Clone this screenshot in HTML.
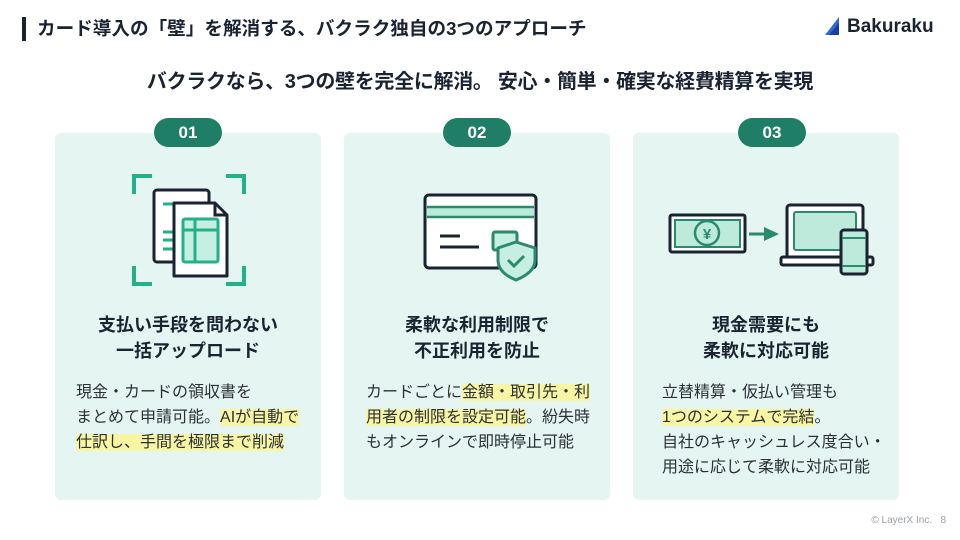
<!DOCTYPE html>
<html><head><meta charset="utf-8"><style>
*{margin:0;padding:0;box-sizing:border-box}
body{width:960px;height:540px;background:#fff;position:relative;overflow:hidden;font-family:"Liberation Sans","Noto Sans CJK JP",sans-serif;color:#1a2332}
.bar{position:absolute;left:22px;top:17px;width:4px;height:24px;background:#1a2332}
.title{position:absolute;left:37px;top:16px;font-size:18.6px;font-weight:bold;line-height:26px;white-space:nowrap}
.logo{position:absolute;left:825px;top:16px;font-size:19px;font-weight:bold;color:#1a2332;white-space:nowrap}
.sub{position:absolute;left:0;width:960px;top:68px;text-align:center;font-size:20px;font-weight:bold;line-height:28px;letter-spacing:-0.3px}
.card{position:absolute;top:133px;width:266px;height:367px;background:#e5f6f2;border-radius:6px}
.badge{position:absolute;top:118px;width:68px;height:29px;background:#1f7e66;border-radius:15px;color:#fff;font-weight:bold;font-size:17px;text-align:center;line-height:29px}
.h{position:absolute;top:312px;width:266px;text-align:center;font-size:18px;font-weight:bold;line-height:26px}
.b{position:absolute;top:380px;font-size:16px;line-height:25px;color:#2b3036;white-space:nowrap}
.hl{background:#f8f6a4}
svg{position:absolute}
.foot{position:absolute;right:14px;top:515px;font-size:10px;color:#9aa0a6}
</style></head><body>
<div class="bar"></div>
<div class="title">カード導入の「壁」を解消する、バクラク独自の3つのアプローチ</div>
<div class="logo"><svg style="position:relative;display:inline-block;vertical-align:-3px" width="22" height="18" viewBox="0 0 22 18"><polygon points="0,18 14,0 14,18" fill="#2a6bd6"/><polygon points="4,18 14,6 14,18" fill="#1a3f9a"/></svg>Bakuraku</div>
<div class="sub">バクラクなら、3つの壁を完全に解消。 安心・簡単・確実な経費精算を実現</div>

<div class="card" style="left:55px"></div>
<div class="card" style="left:344px"></div>
<div class="card" style="left:633px"></div>
<div class="badge" style="left:154px">01</div>
<div class="badge" style="left:443px">02</div>
<div class="badge" style="left:738px">03</div>

<!-- icon 1 -->
<svg style="left:120px;top:160px" width="150" height="130" viewBox="0 0 150 130">
<g stroke="#22b28a" stroke-width="4" fill="none">
<path d="M14,34 V16 H32"/><path d="M106,16 H124 V34"/><path d="M14,106 V124 H32"/><path d="M106,124 H124 V106"/>
</g>
<rect x="34" y="30" width="55" height="72" rx="3" fill="#fff" stroke="#1a2332" stroke-width="3"/>
<g stroke="#22b28a" stroke-width="3"><line x1="43" y1="44" x2="55" y2="44"/><line x1="43" y1="72" x2="55" y2="72"/><line x1="43" y1="80" x2="55" y2="80"/><line x1="43" y1="89" x2="55" y2="89"/></g>
<path d="M54,43 H95 L107,55 V116 H54 Z" fill="#fff" stroke="#1a2332" stroke-width="3" stroke-linejoin="round"/>
<path d="M95,43 V55 H107" fill="none" stroke="#1a2332" stroke-width="3"/>
<rect x="63" y="59" width="35" height="43" rx="2" fill="#c7efe1" stroke="#22b28a" stroke-width="3"/>
<line x1="63" y1="70" x2="98" y2="70" stroke="#22b28a" stroke-width="3"/><line x1="75" y1="59" x2="75" y2="102" stroke="#22b28a" stroke-width="3"/>
</svg>

<!-- icon 2 -->
<svg style="left:410px;top:180px" width="140" height="110" viewBox="0 0 140 110">
<rect x="15" y="15" width="111" height="73" rx="4" fill="#fff" stroke="#1a2332" stroke-width="3"/>
<rect x="17" y="27" width="107" height="10" fill="#b9ead8"/>
<line x1="17" y1="27" x2="124" y2="27" stroke="#2a8a6e" stroke-width="2.5"/><line x1="17" y1="37" x2="124" y2="37" stroke="#2a8a6e" stroke-width="2.5"/>
<line x1="30" y1="56" x2="50" y2="56" stroke="#1a2332" stroke-width="3"/><line x1="30" y1="67" x2="69" y2="67" stroke="#1a2332" stroke-width="3"/>
<rect x="83" y="52" width="24" height="18" rx="2" fill="#c7efe1" stroke="#2a8a6e" stroke-width="3"/>
<path d="M106,62 L125,68 V80 C125,90 116,96 106,100 C96,96 88,90 88,80 V68 Z" fill="#c7efe1" stroke="#2a8a6e" stroke-width="3" stroke-linejoin="round"/>
<path d="M98,80 L104,86 L114,76" fill="none" stroke="#2a8a6e" stroke-width="3"/>
</svg>

<!-- icon 3 -->
<svg style="left:660px;top:190px" width="220" height="90" viewBox="0 0 220 90">
<rect x="10" y="25" width="75" height="37" rx="2" fill="#fff" stroke="#1a2332" stroke-width="3"/>
<rect x="15" y="30" width="65" height="27" fill="#bdeadb" stroke="#2a8a6e" stroke-width="2"/>
<circle cx="47" cy="43" r="12" fill="#bdeadb" stroke="#2a8a6e" stroke-width="2.5"/>
<text x="47" y="49" font-size="15" font-weight="bold" fill="#2a8a6e" text-anchor="middle" font-family="Liberation Sans,sans-serif">¥</text>
<line x1="89" y1="44" x2="106" y2="44" stroke="#2a8a6e" stroke-width="3"/><polygon points="104,37 119,44 104,51" fill="#2a8a6e"/>
<rect x="127" y="15" width="76" height="56" rx="3" fill="#fff" stroke="#1a2332" stroke-width="3"/>
<rect x="134" y="22" width="62" height="38" rx="2" fill="#bdeadb" stroke="#2a8a6e" stroke-width="2"/>
<rect x="121" y="67" width="92" height="8" rx="2" fill="#fff" stroke="#1a2332" stroke-width="3"/>
<rect x="181" y="40" width="26" height="44" rx="3" fill="#bdeadb" stroke="#1a2332" stroke-width="3"/>
<line x1="182" y1="48" x2="206" y2="48" stroke="#2a8a6e" stroke-width="2"/><line x1="182" y1="76" x2="206" y2="76" stroke="#2a8a6e" stroke-width="2"/>
</svg>

<div class="h" style="left:55px">支払い手段を問わない<br>一括アップロード</div>
<div class="h" style="left:344px">柔軟な利用制限で<br>不正利用を防止</div>
<div class="h" style="left:633px">現金需要にも<br>柔軟に対応可能</div>

<div class="b" style="left:76px">現金・カードの領収書を<br>まとめて申請可能。<span class="hl">AIが自動で</span><br><span class="hl">仕訳し、手間を極限まで削減</span></div>
<div class="b" style="left:366px">カードごとに<span class="hl">金額・取引先・利</span><br><span class="hl">用者の制限を設定可能</span>。紛失時<br>もオンラインで即時停止可能</div>
<div class="b" style="left:662px">立替精算・仮払い管理も<br><span class="hl">1つのシステムで完結</span>。<br>自社のキャッシュレス度合い・<br>用途に応じて柔軟に対応可能</div>

<div class="foot">© LayerX Inc. &nbsp;&nbsp;8</div>
</body></html>
